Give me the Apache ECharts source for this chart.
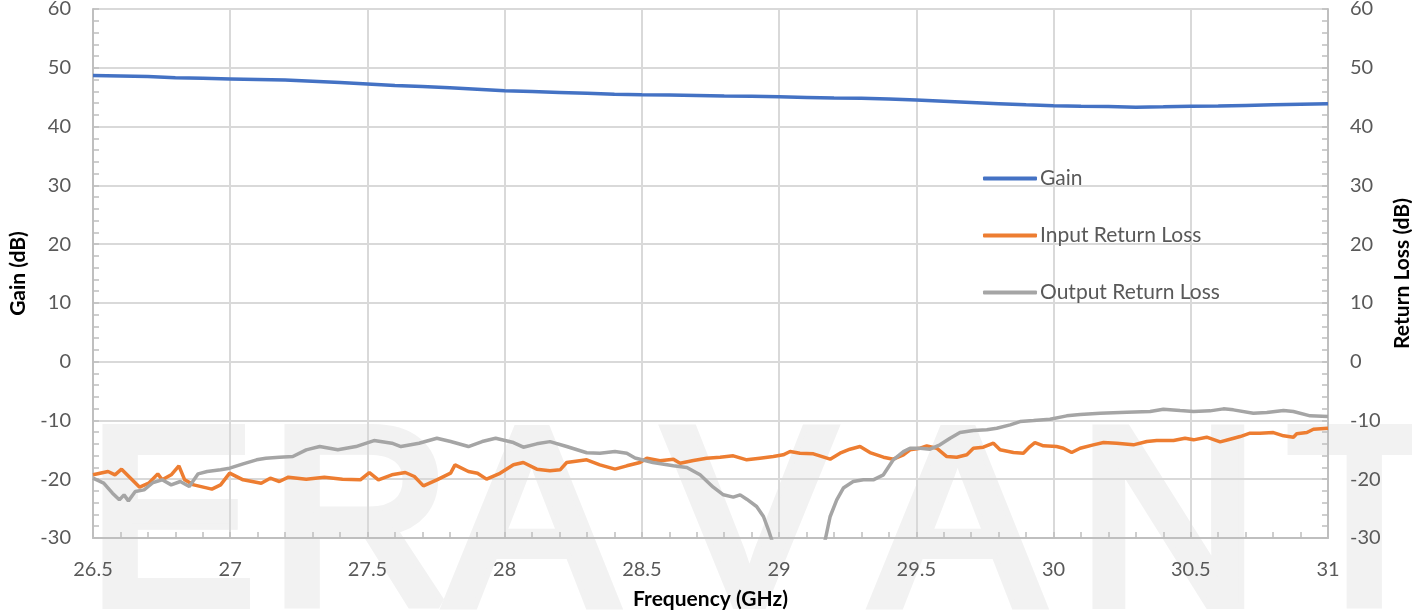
<!DOCTYPE html>
<html>
<head>
<meta charset="utf-8">
<script src="https://cdn.jsdelivr.net/npm/echarts@6/dist/echarts.min.js"></script>
<style>
  html, body { margin: 0; padding: 0; background: #fff; }
  #chart { width: 1412px; height: 612px; }
</style>
</head>
<body>
<div id="chart"></div>
<script>
// gain
var gainFreq = [26.5, 26.6, 26.7, 26.8, 26.9, 27.0, 27.1, 27.2, 27.3, 27.4, 27.5, 27.6, 27.7, 27.8, 27.9,
    28.0, 28.1, 28.2, 28.3, 28.4, 28.5, 28.6, 28.7, 28.8, 28.9, 29.0, 29.1, 29.2, 29.3, 29.4, 29.5,
    29.6, 29.7, 29.8, 29.9, 30.0, 30.1, 30.2, 30.3, 30.4, 30.5, 30.6, 30.7, 30.8, 30.9, 31.0];
var gainDb = [48.7, 48.6, 48.5, 48.3, 48.2, 48.1, 48.0, 47.9, 47.7, 47.5, 47.25, 47.0, 46.8, 46.6, 46.35,
    46.1, 45.95, 45.8, 45.65, 45.5, 45.4, 45.35, 45.3, 45.2, 45.15, 45.05, 44.95, 44.85, 44.8, 44.7, 44.5,
    44.3, 44.1, 43.9, 43.7, 43.55, 43.45, 43.4, 43.3, 43.35, 43.45, 43.5, 43.6, 43.7, 43.8, 43.9];

// input return loss (orange)
var irlFreq = [26.5, 26.555, 26.58, 26.604, 26.637, 26.67, 26.703, 26.736, 26.752, 26.785, 26.813, 26.834,
    26.867, 26.933, 26.965, 26.998, 27.047, 27.113, 27.146, 27.179, 27.212, 27.277, 27.343, 27.409, 27.474,
    27.507, 27.54, 27.589, 27.638, 27.671, 27.704, 27.753, 27.803, 27.819, 27.868, 27.901, 27.934, 27.983,
    28.032, 28.068, 28.117, 28.165, 28.202, 28.226, 28.299, 28.347, 28.402, 28.445, 28.493, 28.518, 28.566,
    28.615, 28.639, 28.688, 28.736, 28.785, 28.833, 28.882, 28.93, 28.979, 29.015, 29.04, 29.076, 29.125,
    29.186, 29.222, 29.258, 29.295, 29.331, 29.38, 29.416, 29.453, 29.477, 29.514, 29.538, 29.574, 29.611,
    29.647, 29.684, 29.708, 29.744, 29.781, 29.805, 29.854, 29.89, 29.914, 29.932, 29.963, 30.011, 30.036,
    30.066, 30.097, 30.145, 30.182, 30.23, 30.291, 30.34, 30.376, 30.437, 30.479, 30.51, 30.558, 30.607,
    30.643, 30.68, 30.716, 30.752, 30.801, 30.838, 30.874, 30.886, 30.923, 30.947, 31.0];
var irlDb = [-19.25, -18.69, -19.25, -18.29, -19.82, -21.35, -20.67, -19.09, -20.1, -19.25, -17.72, -20.1,
    -20.96, -21.69, -20.96, -18.97, -20.1, -20.67, -19.82, -20.39, -19.65, -19.99, -19.65, -19.99, -20.1,
    -18.86, -20.1, -19.25, -18.86, -19.54, -21.13, -20.1, -18.97, -17.55, -18.69, -18.97, -19.99, -19.0,
    -17.55, -17.16, -18.29, -18.57, -18.4, -17.16, -16.7, -17.55, -18.29, -17.72, -17.16, -16.42, -16.87,
    -16.59, -17.27, -16.82, -16.42, -16.25, -16.02, -16.7, -16.42, -16.14, -15.85, -15.29, -15.57, -15.68,
    -16.59, -15.57, -14.89, -14.44, -15.46, -16.25, -16.59, -15.85, -15.0, -14.72, -14.32, -14.72, -16.14,
    -16.25, -15.85, -14.72, -14.55, -13.87, -15.0, -15.46, -15.57, -14.44, -13.76, -14.32, -14.44, -14.72,
    -15.46, -14.72, -14.15, -13.76, -13.87, -14.15, -13.59, -13.42, -13.42, -13.02, -13.3, -12.85, -13.64,
    -13.19, -12.74, -12.17, -12.17, -12.06, -12.62, -12.85, -12.28, -12.06, -11.49, -11.32];

// output return loss (gray), dips below the axis floor near 29.07
var orlFreq = [26.5, 26.539, 26.571, 26.596, 26.613, 26.629, 26.654, 26.686, 26.719, 26.752, 26.785, 26.818,
    26.851, 26.883, 26.916, 26.965, 26.998, 27.047, 27.096, 27.13, 27.179, 27.228, 27.277, 27.326, 27.392,
    27.458, 27.524, 27.589, 27.622, 27.688, 27.753, 27.803, 27.868, 27.918, 27.967, 28.032, 28.068, 28.117,
    28.165, 28.226, 28.299, 28.347, 28.402, 28.445, 28.475, 28.54, 28.615, 28.664, 28.712, 28.76, 28.797,
    28.833, 28.858, 28.882, 28.918, 28.943, 28.961, 28.973, 29.0, 29.07, 29.14, 29.168, 29.186, 29.21, 29.234,
    29.27, 29.307, 29.343, 29.38, 29.416, 29.453, 29.477, 29.514, 29.55, 29.586, 29.623, 29.659, 29.708,
    29.757, 29.793, 29.842, 29.878, 29.927, 29.987, 30.048, 30.097, 30.17, 30.267, 30.352, 30.4, 30.461,
    30.51, 30.57, 30.619, 30.655, 30.728, 30.777, 30.838, 30.874, 30.935, 31.0];
var orlDb = [-19.82, -20.67, -22.37, -23.51, -22.66, -23.68, -22.09, -21.81, -20.56, -20.1, -20.96, -20.39,
    -21.24, -19.09, -18.69, -18.4, -18.12, -17.38, -16.7, -16.42, -16.25, -16.14, -15.0, -14.44, -15.0,
    -14.44, -13.42, -13.87, -14.44, -13.87, -13.02, -13.59, -14.44, -13.59, -13.02, -13.76, -14.55, -13.98,
    -13.6, -14.44, -15.5, -15.57, -15.29, -15.57, -16.4, -17.16, -17.72, -18.0, -19.25, -21.35, -22.65,
    -23.05, -22.66, -23.4, -24.64, -26.34, -28.6, -30.3, -35, -42, -35, -30.3, -26.34, -23.5, -21.5,
    -20.4, -20.1, -20.1, -19.25, -16.7, -15.3, -14.72, -14.72, -14.89, -14.15, -13.02, -12.06, -11.72,
    -11.6, -11.32, -10.75, -10.19, -10.02, -9.79, -9.22, -9.0, -8.77, -8.6, -8.49, -8.09, -8.32,
    -8.49, -8.37, -8.03, -8.2, -8.77, -8.66, -8.32, -8.49, -9.22, -9.34];

var seriesNames = ['Gain', 'Input Return Loss', 'Output Return Loss'];
var watermarkLetters = ['E', 'R', 'A', 'V', 'A', 'N', 'T'];
var watermarkLeft = [82, 264, 442, 660, 868, 1072, 1282];

function pairs(xs, ys) {
    var out = [];
    for (var i = 0; i < xs.length; i++) out.push([xs[i], ys[i]]);
    return out;
}

var FONT = 'Lato, "Open Sans", sans-serif';
var gridColor = '#d9d9d9';
var axisColor = '#bfbfbf';
var labelColor = '#595959';

var watermark = watermarkLetters.map(function (ch, i) {
    return {
        type: 'text',
        left: watermarkLeft[i],
        top: 403,
        z: -10,
        silent: true,
        style: {
            text: ch,
            fill: '#f2f2f2',
            stroke: '#f2f2f2',
            lineWidth: 12,
            font: '250px "Liberation Sans Narrow", "Liberation Sans", Arial, sans-serif'
        }
    };
});

function yAxisCfg(name, pos) {
    return {
        type: 'value',
        position: pos,
        min: -30,
        max: 60,
        interval: 10,
        name: name,
        nameLocation: 'middle',
        nameGap: pos === 'left' ? 64 : 63,
        nameTextStyle: { fontFamily: FONT, fontWeight: 'bold', fontSize: 21, color: '#000' },
        axisLine: { show: true, onZero: false, lineStyle: { color: axisColor, width: 2 } },
        axisTick: { show: true, inside: true, length: 6, lineStyle: { color: axisColor, width: 1.5 } },
        minorTick: { show: true, splitNumber: 5, length: 6, lineStyle: { color: axisColor, width: 1.5 } },
        axisLabel: { fontFamily: FONT, fontSize: 20, color: labelColor, margin: 22 },
        splitLine: { show: pos === 'left', lineStyle: { color: gridColor, width: 2 } }
    };
}

var option = {
    backgroundColor: '#fff',
    animation: false,
    graphic: watermark,
    grid: { left: 93, right: 84, top: 9, bottom: 74, containLabel: false, outerBoundsMode: 'none' },
    legend: {
        orient: 'vertical',
        left: 978,
        top: 163,
        itemWidth: 54,
        itemHeight: 4,
        itemGap: 36,
        icon: 'roundRect',
        data: seriesNames,
        textStyle: { fontFamily: FONT, fontSize: 21, color: labelColor, padding: [0, 0, 0, -2] }
    },
    xAxis: {
        type: 'value',
        min: 26.5,
        max: 31,
        interval: 0.5,
        name: 'Frequency (GHz)',
        nameLocation: 'middle',
        nameGap: 51,
        nameTextStyle: { fontFamily: FONT, fontWeight: 'bold', fontSize: 21, color: '#000' },
        axisLine: { show: true, onZero: false, lineStyle: { color: axisColor, width: 2 } },
        axisTick: { show: true, inside: true, length: 6, lineStyle: { color: axisColor, width: 1.5 } },
        minorTick: { show: true, splitNumber: 5, length: 6, lineStyle: { color: axisColor, width: 1.5 } },
        axisLabel: { fontFamily: FONT, fontSize: 20, color: labelColor, margin: 22 },
        splitLine: { show: true, lineStyle: { color: gridColor, width: 2 } }
    },
    yAxis: [yAxisCfg('Gain (dB)', 'left'), yAxisCfg('Return Loss (dB)', 'right')],
    series: [
        {
            name: seriesNames[0], type: 'line', yAxisIndex: 0, showSymbol: false,
            data: pairs(gainFreq, gainDb),
            itemStyle: { color: '#4472c4' },
            lineStyle: { color: '#4472c4', width: 3.5 }
        },
        {
            name: seriesNames[1], type: 'line', yAxisIndex: 1, showSymbol: false,
            data: pairs(irlFreq, irlDb),
            itemStyle: { color: '#ed7d31' },
            lineStyle: { color: '#ed7d31', width: 3.5 }
        },
        {
            name: seriesNames[2], type: 'line', yAxisIndex: 1, showSymbol: false,
            data: pairs(orlFreq, orlDb),
            itemStyle: { color: '#a5a5a5' },
            lineStyle: { color: '#a5a5a5', width: 3.5 }
        }
    ]
};

var myChart = echarts.init(document.getElementById('chart'));
myChart.setOption(option);
</script>
</body>
</html>
